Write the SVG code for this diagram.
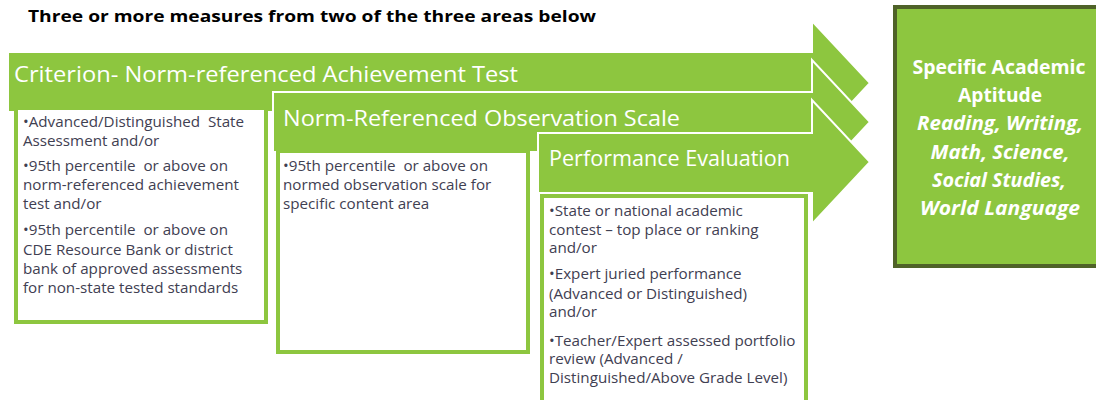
<svg xmlns="http://www.w3.org/2000/svg" width="1096" height="400" viewBox="0 0 1096 400">
<style>
.arrow{fill:#8dc63f;stroke:#ffffff;stroke-width:2;stroke-linejoin:miter}
.box{fill:#ffffff;stroke:#8dc63f;stroke-width:4}
.title{font-family:"Open Sans","Liberation Sans",sans-serif;font-weight:bold;font-size:16.5px;fill:#000}
.head{font-family:"Open Sans","Liberation Sans",sans-serif;font-size:21px;fill:#ffffff}
.body{font-family:"Open Sans","Liberation Sans",sans-serif;font-size:15.2px;fill:#3f4052}
.res{font-family:"Open Sans","Liberation Sans",sans-serif;font-weight:bold;font-size:19px;fill:#ffffff;text-anchor:middle}
.it{font-style:italic}
</style>
<rect width="1096" height="400" fill="#ffffff"/>
<text class="title" x="28" y="22" textLength="568" lengthAdjust="spacingAndGlyphs">Three or more measures from two of the three areas below</text>

<g id="area1">
<path class="arrow" d="M8,52 H812 V21 L870,83 L812,145 V112 H8 Z"/>
<rect class="box" x="16" y="108" width="250" height="214"/>
<text class="head" x="14" y="82" textLength="504" lengthAdjust="spacingAndGlyphs">Criterion- Norm-referenced Achievement Test</text>
<g class="body">
<text x="23" y="127">•Advanced/Distinguished&#160; State</text>
<text x="23" y="146">Assessment and/or</text>
<text x="23" y="171">•95th percentile&#160; or above on</text>
<text x="23" y="190">norm-referenced achievement</text>
<text x="23" y="209">test and/or</text>
<text x="23" y="235">•95th percentile&#160; or above on</text>
<text x="23" y="255">CDE Resource Bank or district</text>
<text x="23" y="274">bank of approved assessments</text>
<text x="23" y="293">for non-state tested standards</text>
</g>
</g>

<g id="area2">
<path class="arrow" d="M273,92 H812 V60 L870,122 L812,184 V152 H273 Z"/>
<rect class="box" x="278" y="151" width="250" height="201"/>
<text class="head" x="283" y="126" textLength="397" lengthAdjust="spacingAndGlyphs">Norm-Referenced Observation Scale</text>
<g class="body">
<text x="283" y="171">•95th percentile&#160; or above on</text>
<text x="283" y="190">normed observation scale for</text>
<text x="283" y="209">specific content area</text>
</g>
</g>

<g id="area3">
<path class="arrow" d="M538,133 H812 V100 L870,162 L812,224 V193 H538 Z"/>
<rect class="box" x="542" y="196" width="264" height="220"/>
<text class="head" x="549" y="166" textLength="241" lengthAdjust="spacingAndGlyphs">Performance Evaluation</text>
<g class="body">
<text x="549" y="216">•State or national academic</text>
<text x="549" y="235">contest – top place or ranking</text>
<text x="549" y="253">and/or</text>
<text x="549" y="279">•Expert juried performance</text>
<text x="549" y="299">(Advanced or Distinguished)</text>
<text x="549" y="317">and/or</text>
<text x="549" y="346">•Teacher/Expert assessed portfolio</text>
<text x="549" y="364">review (Advanced /</text>
<text x="549" y="383">Distinguished/Above Grade Level)</text>
</g>
</g>

<g id="result">
<rect x="895" y="7" width="212" height="259" fill="#8dc63f" stroke="#4f6228" stroke-width="4"/>
<text class="res" x="999" y="74" textLength="173" lengthAdjust="spacingAndGlyphs">Specific Academic</text>
<text class="res" x="1000" y="102" textLength="84" lengthAdjust="spacingAndGlyphs">Aptitude</text>
<text class="res it" x="1000" y="130" textLength="166" lengthAdjust="spacingAndGlyphs">Reading, Writing,</text>
<text class="res it" x="1000" y="159" textLength="139" lengthAdjust="spacingAndGlyphs">Math, Science,</text>
<text class="res it" x="999" y="187" textLength="134" lengthAdjust="spacingAndGlyphs">Social Studies,</text>
<text class="res it" x="1000" y="215" textLength="160" lengthAdjust="spacingAndGlyphs">World Language</text>
</g>
</svg>
